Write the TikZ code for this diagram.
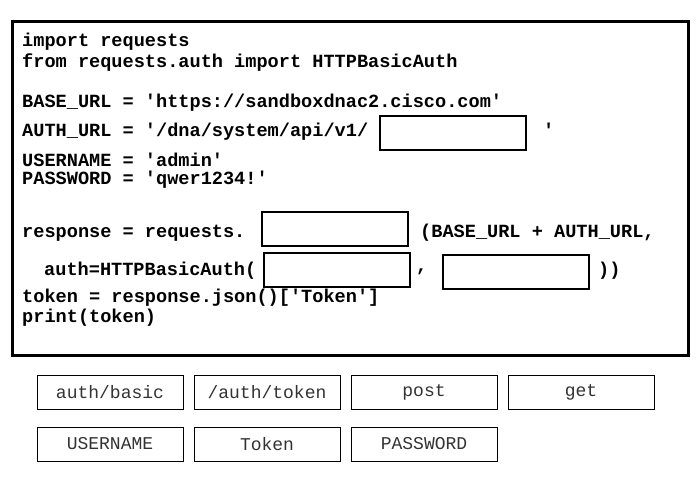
\documentclass[tikz,border=0pt]{standalone}
\usepackage{fontspec}
\setmonofont{Liberation Mono}
\usetikzlibrary{positioning}

\begin{document}
\begin{tikzpicture}[x=1pt,y=-1pt,
  code/.style={anchor=west,inner sep=0pt,font=\ttfamily\fontsize{18.6}{18.6}\selectfont\bfseries},
  blank/.style={draw,line width=1.2pt,minimum width=146pt,minimum height=34pt,inner sep=0pt},
  choice/.style={draw,line width=1pt,minimum width=146pt,minimum height=34pt,inner sep=0pt,
    font=\ttfamily\fontsize{18}{18}\selectfont,text=black!80}]

\useasboundingbox (0,0) rectangle (700,484);

% Code frame
\draw [line width=3pt] (12,22) rectangle (688,355);

% Code lines
\node [code] (l1) at (22,42) {import requests};
\node [code] (l2) at (22,63) {from requests.auth import HTTPBasicAuth};
\node [code] (l3) at (22,103) {BASE\_URL = 'https://sandboxdnac2.cisco.com'};
\node [code] (l4) at (22,132) {AUTH\_URL = '/dna/system/api/v1/};
\node [code] (l4q) at (543,130) {'};
\node [code] (l5) at (22,160) {USERNAME = 'admin'};
\node [code] (l6) at (22,180) {PASSWORD = 'qwer1234!'};
\node [code] (l7) at (22,233) {response = requests.};
\node [code] (l7b) at (420,233) {(BASE\_URL + AUTH\_URL,};
\node [code] (l8) at (44,271) {auth=HTTPBasicAuth(};
\node [code] (l8c) at (416,272) {,};
\node [code] (l8e) at (598,271) {))};
\node [code] (l9) at (22,298) {token = response.json()['Token']};
\node [code] (l10) at (22,318) {print(token)};

% Empty slots
\node [blank] (urlslot) at (453,133) {};
\node [blank] (methodslot) at (335,229) {};
\node [blank] (userslot) at (337,270) {};
\node [blank] (passslot) at (516,272) {};

% Answer choices
\node [choice] (basic) at (110,392) {auth/basic};
\node [choice, right=10pt of basic] (tokenurl) {/auth/token};
\node [choice, right=10pt of tokenurl] (post) {post};
\node [choice, right=10pt of post] (get) {get};
\node [choice] (user) at (110,444) {USERNAME};
\node [choice, right=10pt of user] (tok) {Token};
\node [choice, right=10pt of tok] (pass) {PASSWORD};

\end{tikzpicture}
\end{document}
